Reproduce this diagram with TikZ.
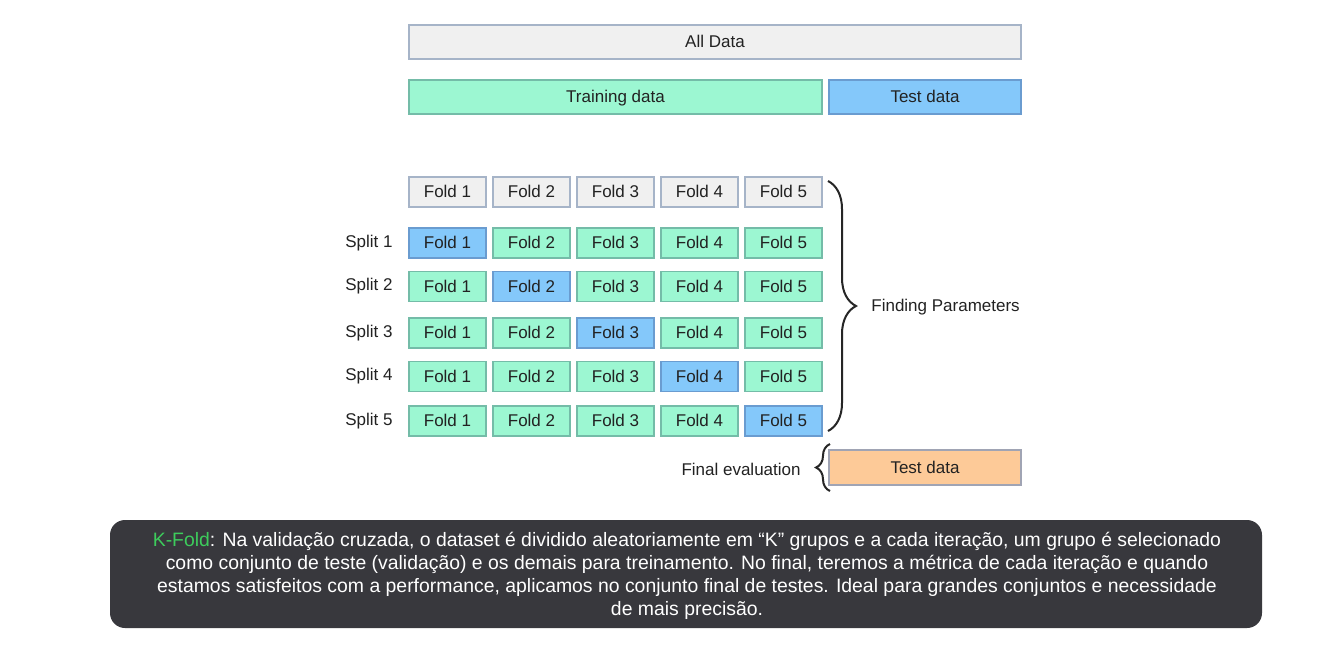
\documentclass[tikz,border=0pt]{standalone}
\usepackage{fontspec}
\setmainfont{Liberation Sans}
\newfontfamily\capfont{Liberation Sans}
\usetikzlibrary{decorations.pathreplacing}
\definecolor{grayfill}{HTML}{F0F0F0}
\definecolor{grayline}{HTML}{A6B4C8}
\definecolor{greenfill}{HTML}{9CF7D2}
\definecolor{greenline}{HTML}{74BCA8}
\definecolor{bluefill}{HTML}{84C8FA}
\definecolor{blueline}{HTML}{6A9CD0}
\definecolor{orangefill}{HTML}{FDCA98}
\definecolor{orangeline}{HTML}{A0A4B4}
\definecolor{captionbg}{HTML}{38383D}
\definecolor{kgreen}{HTML}{3DCC5C}
\definecolor{txt}{HTML}{222222}
\tikzset{
  box/.style={draw, line width=0.6pt, inner sep=0pt, minimum height=15pt, text height=6.2pt, text depth=0.4pt, text=txt, font=\fontsize{8.5}{10}\selectfont},
  graybox/.style={box, fill=grayfill, draw=grayline},
  greenbox/.style={box, fill=greenfill, draw=greenline},
  bluebox/.style={box, fill=bluefill, draw=blueline},
  orangebox/.style={box, fill=orangefill, draw=orangeline},
  fold/.style={minimum width=38.5pt},
  lbl/.style={text=txt, font=\fontsize{8.5}{10}\selectfont, inner sep=0pt},
  bracestyle/.style={decorate, line width=1pt, draw=black!85},
}
\begin{document}
\begin{tikzpicture}[x=0.5pt,y=-0.5pt]
\useasboundingbox (0,0) rectangle (1334,645);
\fill[white] (0,0) rectangle (1334,645);
% top bars
\node[graybox, minimum width=306pt, minimum height=17pt] (all) at (715,42) {All Data};
\node[greenbox, minimum width=206.5pt, minimum height=17pt] (train) at (615.5,97) {Training data};
\node[bluebox, minimum width=96pt, minimum height=17pt] (test) at (925,97) {Test data};
% header folds
\node[graybox, fold] (h1) at (447.5,192) {Fold 1};
\node[graybox, fold] (h2) at (531.5,192) {Fold 2};
\node[graybox, fold] (h3) at (615.5,192) {Fold 3};
\node[graybox, fold] (h4) at (699.5,192) {Fold 4};
\node[graybox, fold] (h5) at (783.5,192) {Fold 5};
% splits
\foreach \r/\y in {1/243,2/286.5,3/333,4/376.5,5/421}{
  \node[lbl, anchor=east] (s\r) at (393,\y) {Split \r};
  \foreach \c/\x in {1/447.5,2/531.5,3/615.5,4/699.5,5/783.5}{
    \ifnum\r=\c
      \node[bluebox, fold] (f\r\c) at (\x,\y) {Fold \c};
    \else
      \node[greenbox, fold] (f\r\c) at (\x,\y) {Fold \c};
    \fi
  }
}
% braces
\coordinate (b1) at (828,181);
\coordinate (b2) at (828,431);
\draw[bracestyle, decoration={brace, amplitude=14pt}] (b1) -- (b2);
\begin{scope}
\clip (860,280) rectangle (1022,330);
\node[lbl, anchor=west] (fp) at (871,307) {Finding Parameters};
\end{scope}
\node[orangebox, minimum width=96pt, minimum height=17.5pt] (final) at (925,467.5) {Test data};
\coordinate (c1) at (830,491);
\coordinate (c2) at (830,444);
\draw[bracestyle, decoration={brace, amplitude=7pt}] (c1) -- (c2);
\node[lbl, anchor=east] (fe) at (801,469) {Final evaluation};
% caption
\node[fill=captionbg, rounded corners=7.5pt, minimum width=576pt, minimum height=54pt, inner sep=0pt] (capbox) at (686,574) {};
\node[text=white, align=center, font=\capfont\fontsize{9.7}{11.5}\selectfont, inner sep=0pt] (cap) at (687,576)
 {\textcolor{kgreen}{K-Fold}: Na validação cruzada, o dataset é dividido aleatoriamente em “K” grupos e a cada iteração, um grupo é selecionado\\
 como conjunto de teste (validação) e os demais para treinamento. No final, teremos a métrica de cada iteração e quando\\
 estamos satisfeitos com a performance, aplicamos no conjunto final de testes. Ideal para grandes conjuntos e necessidade\\
 de mais precisão.};
\end{tikzpicture}
\end{document}
